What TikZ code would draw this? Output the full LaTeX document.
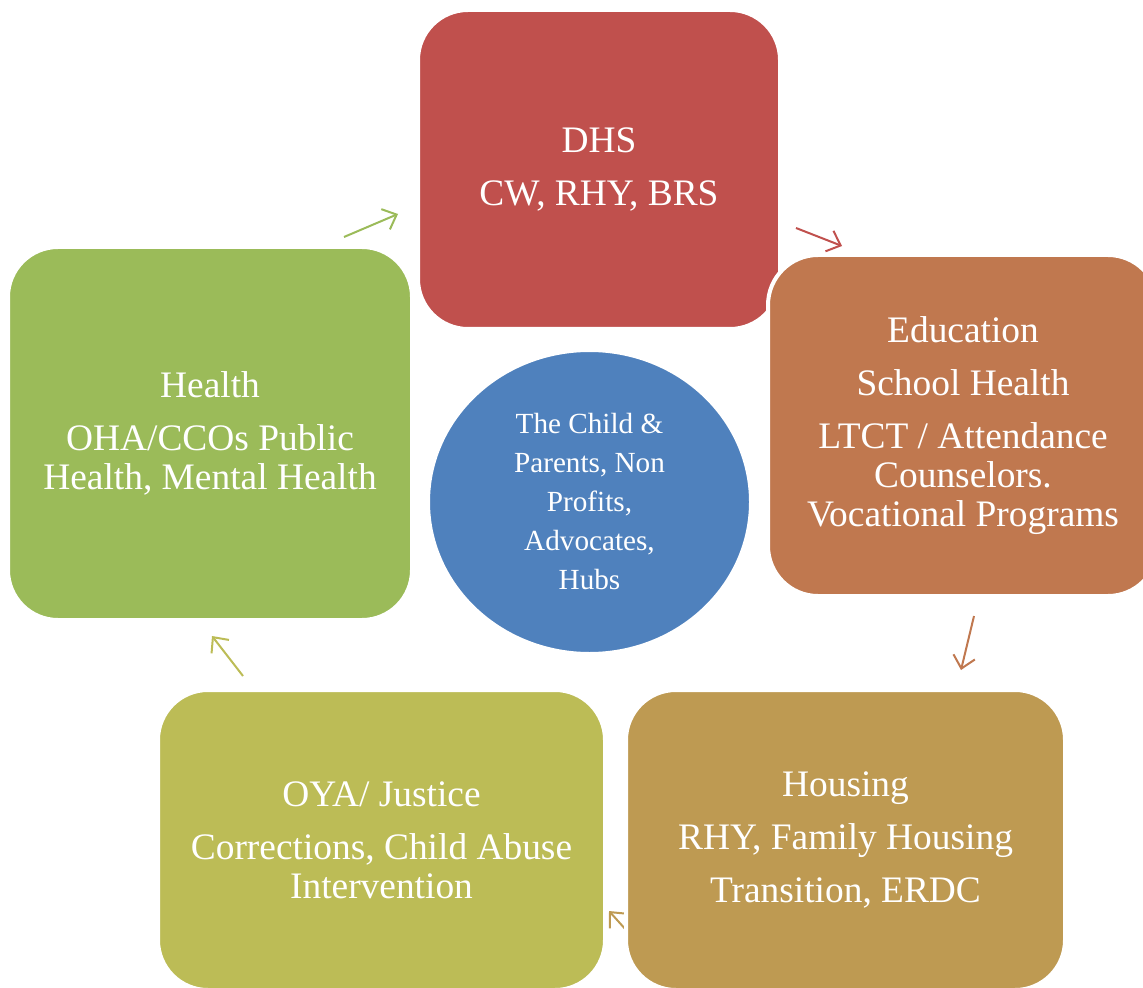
\documentclass[tikz,border=0pt]{standalone}
\usepackage{fontspec}
\setmainfont{Liberation Serif}
\usetikzlibrary{
    arrows.meta,
    shapes.geometric
}
\definecolor{dhsred}{HTML}{C0504D}
\definecolor{eduorange}{HTML}{C0784F}
\definecolor{housegold}{HTML}{BE9A52}
\definecolor{oyaolive}{HTML}{BCBC56}
\definecolor{healthgreen}{HTML}{9BBB59}
\definecolor{childblue}{HTML}{4F81BD}
\tikzset {
    box/.style = {
        rectangle,
        rounded corners = 25pt,
        draw = white,
        line width = 2pt,
        text = white,
        align = center,
        inner sep = 0pt,
        font = \fontsize{18.7}{19.5}\selectfont
    },
    hub/.style = {
        ellipse,
        draw = white,
        line width = 2pt,
        fill = childblue,
        text = white,
        align = center,
        inner sep = 0pt,
        font = \fontsize{14.6}{19.5}\selectfont
    },
    cycle arrow/.style = {
        line width = 1pt,
        -{Straight Barb[length = 6pt, width = 11pt]}
    }
}

\begin{document}
\begin{tikzpicture}[x = 0.5pt, y = -0.5pt]
    \useasboundingbox (0, 0) rectangle (1143, 988);
    \clip (0, 0) rectangle (1143, 988);
    % arrow ends
    \coordinate (gs) at (344, 237);
    \coordinate (ge) at (398, 214);
    \coordinate (rs) at (796, 228);
    \coordinate (re) at (842, 246);
    \coordinate (os) at (974, 616);
    \coordinate (oe) at (961, 670);
    \coordinate (hs) at (627, 931);
    \coordinate (he) at (609, 911);
    \coordinate (ys) at (243, 676);
    \coordinate (ye) at (212, 636);
    \draw [cycle arrow, healthgreen] (gs) -- (ge);
    \draw [cycle arrow, dhsred] (rs) -- (re);
    \draw [cycle arrow, eduorange] (os) -- (oe);
    \draw [cycle arrow, housegold] (hs) -- (he);
    \draw [cycle arrow, oyaolive] (ys) -- (ye);
    % boxes
    \node (dhs) [box, fill = dhsred, minimum width = 181pt, minimum height = 159.5pt]
        at (599, 169.5) {DHS\\[7pt]CW, RHY, BRS};
    \node (edu) [box, fill = eduorange, minimum width = 195pt, minimum height = 170.5pt]
        at (963, 425.5) {Education\\[7pt]School Health\\[7pt]LTCT / Attendance\\Counselors.\\Vocational Programs};
    \node (hou) [box, fill = housegold, minimum width = 219.5pt, minimum height = 150pt]
        at (845.5, 840) {Housing\\[7pt]RHY, Family Housing\\[7pt]Transition, ERDC};
    \node (oya) [box, fill = oyaolive, minimum width = 223.5pt, minimum height = 150pt]
        at (381.5, 840) {OYA/ Justice\\[7pt]Corrections, Child Abuse\\Intervention};
    \node (hea) [box, fill = healthgreen, minimum width = 202pt, minimum height = 186.5pt]
        at (210, 433.5) {Health\\[7pt]OHA/CCOs Public\\Health, Mental Health};
    \node (kid) [hub, minimum width = 161.5pt, minimum height = 152pt]
        at (589.5, 502) {The Child \&\\Parents, Non\\Profits,\\Advocates,\\Hubs};
\end{tikzpicture}
\end{document}
